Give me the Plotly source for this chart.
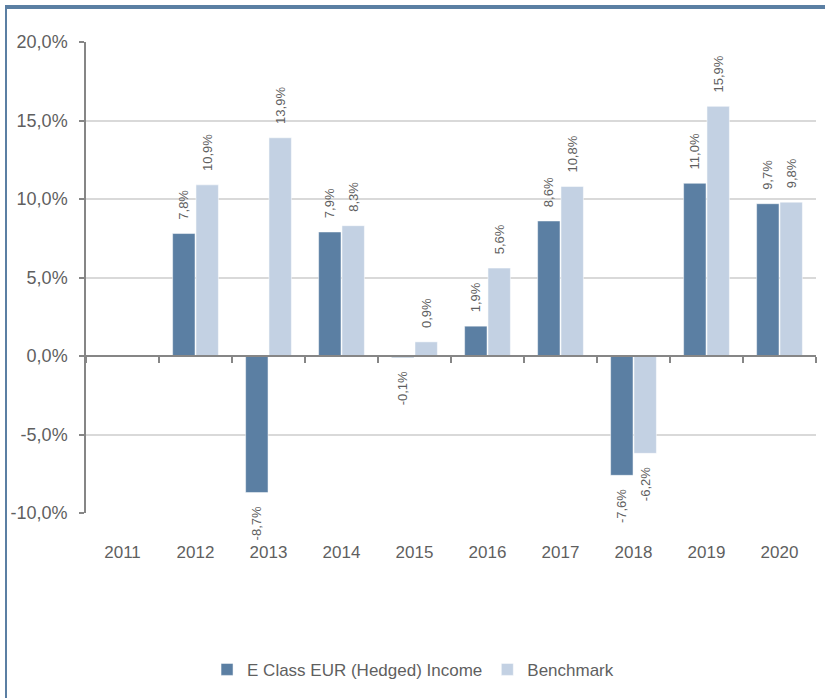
import plotly.graph_objects as go

years = ["2011", "2012", "2013", "2014", "2015", "2016", "2017", "2018", "2019", "2020"]
fund = [None, 7.8, -8.7, 7.9, -0.1, 1.9, 8.6, -7.6, 11.0, 9.7]
bench = [None, 10.9, 13.9, 8.3, 0.9, 5.6, 10.8, -6.2, 15.9, 9.8]
ytick_vals = [-10, -5, 0, 5, 10, 15, 20]
ytick_text = ["-10,0%", "-5,0%", "0,0%", "5,0%", "10,0%", "15,0%", "20,0%"]

PAD = "\u00a0" * 3


def lab(vals):
    out = []
    for v in vals:
        if v is None:
            out.append("")
            continue
        s = f"{v:.1f}%".replace(".", ",")
        out.append(PAD + s if v >= 0 else s + PAD)
    return out


DARK = "#5b7fa3"
LIGHT = "#c3d1e3"
TXT = "#5f5f5f"
FONT = "Liberation Sans, Arial, sans-serif"

fig = go.Figure()
fig.add_trace(go.Bar(x=years, y=fund, name="E Class EUR (Hedged) Income",
                     marker=dict(color=DARK, line=dict(color="#ffffff", width=0.5)),
                     text=lab(fund), textposition="outside", textangle=-90,
                     textfont=dict(size=13, color=TXT, family=FONT),
                     cliponaxis=False, constraintext="none"))
fig.add_trace(go.Bar(x=years, y=bench, name="Benchmark",
                     marker=dict(color=LIGHT, line=dict(color="#ffffff", width=0.5)),
                     text=lab(bench), textposition="outside", textangle=-90,
                     textfont=dict(size=13, color=TXT, family=FONT),
                     cliponaxis=False, constraintext="none"))
# invisible trace on overlay axis to draw the zero axis line with ticks
fig.add_trace(go.Bar(x=years, y=[0]*len(years), xaxis="x2", showlegend=False,
                     hoverinfo="skip", marker=dict(color="rgba(0,0,0,0)")))

fig.update_layout(
    width=825, height=698,
    margin=dict(l=86, r=9, t=42, b=185),
    paper_bgcolor="white", plot_bgcolor="white",
    font=dict(family=FONT, color=TXT, size=17),
    barmode="group", bargap=0.36, bargroupgap=0.04,
    showlegend=True,
    legend=dict(orientation="h", x=0.448, xanchor="center", y=-0.333, yanchor="middle",
                font=dict(size=17, color=TXT, family=FONT), itemwidth=30),
    xaxis=dict(type="category", showgrid=False, showline=False,
               ticks="outside", ticklen=24, tickcolor="rgba(0,0,0,0)",
               tickfont=dict(size=17, color=TXT), range=[-0.5, 9.5]),
    xaxis2=dict(type="category", overlaying="x", anchor="free", position=1/3,
                showline=True, linecolor="#868686", linewidth=1.5,
                ticks="outside", ticklen=6, tickcolor="#868686", tickwidth=1.5,
                tickson="boundaries", showticklabels=False, showgrid=False,
                range=[-0.5, 9.5], zeroline=False),
    yaxis=dict(range=[-10, 20], tickvals=ytick_vals, ticktext=ytick_text,
               showgrid=True, gridcolor="#d9d9d9", gridwidth=1.5,
               showline=True, linecolor="#868686", linewidth=1.5,
               ticks="outside", ticklen=5, tickcolor="#868686", tickwidth=1.5,
               ticklabelstandoff=8,
               zeroline=False, tickfont=dict(size=18, color=TXT)),
    shapes=[
        dict(type="line", xref="paper", yref="paper", x0=(5-86)/730, x1=(825-86)/730,
             y0=(513-7)/471, y1=(513-7)/471, line=dict(color="#5b7fa3", width=4)),
        dict(type="line", xref="paper", yref="paper", x0=(6-86)/730, x1=(6-86)/730,
             y0=(513-6)/471, y1=(513-698)/471, line=dict(color="#5b7fa3", width=2)),
    ],
)

fig.write_html("out.html", config={"displayModeBar": False},
               post_script="document.body.style.margin='0';")
